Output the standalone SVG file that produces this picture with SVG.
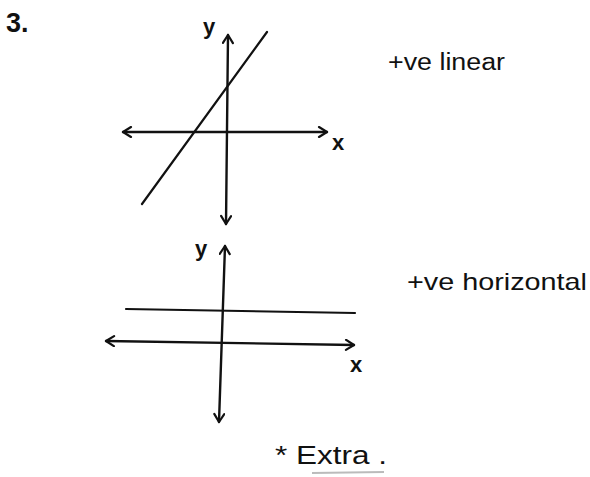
<svg xmlns="http://www.w3.org/2000/svg" width="590" height="477" viewBox="0 0 590 477">
<style>
.ax{stroke:#111;stroke-width:2.4;fill:none;stroke-linecap:round}
.ln{stroke:#111;stroke-width:2.2;fill:none;stroke-linecap:round}
.hw{font-family:"Liberation Sans",Arial,sans-serif;fill:#111}
</style>
<defs>
<marker id="ah" viewBox="0 0 12 12" refX="10" refY="6" markerWidth="12" markerHeight="12" markerUnits="userSpaceOnUse" orient="auto-start-reverse">
<path d="M2,1 L10,6 L2,11" fill="none" stroke="#111" stroke-width="2.2" stroke-linecap="round" stroke-linejoin="round"/>
</marker>
</defs>
<rect width="590" height="477" fill="#fff"/>
<text class="hw" x="6" y="32" font-size="27" font-weight="bold">3.</text>
<g id="graph1">
<line class="ax" x1="123" y1="132" x2="327" y2="132" marker-start="url(#ah)" marker-end="url(#ah)"/>
<line class="ax" x1="228" y1="35" x2="226" y2="224" marker-start="url(#ah)" marker-end="url(#ah)"/>
<line class="ln" x1="142" y1="204" x2="267" y2="32"/>
<text class="hw" x="203" y="34" font-size="22" font-weight="bold">y</text>
<text class="hw" x="332" y="150" font-size="22" font-weight="bold">x</text>
</g>
<text class="hw" x="388" y="70" font-size="23" textLength="117" lengthAdjust="spacingAndGlyphs">+ve linear</text>
<g id="graph2">
<line class="ax" x1="106" y1="341" x2="354" y2="345" marker-start="url(#ah)" marker-end="url(#ah)"/>
<line class="ax" x1="225" y1="246" x2="219" y2="422" marker-start="url(#ah)" marker-end="url(#ah)"/>
<line class="ln" x1="126" y1="309" x2="355" y2="313"/>
<text class="hw" x="195" y="256" font-size="22" font-weight="bold">y</text>
<text class="hw" x="350" y="372" font-size="22" font-weight="bold">x</text>
</g>
<text class="hw" x="407" y="290" font-size="24" textLength="180" lengthAdjust="spacingAndGlyphs">+ve horizontal</text>
<g id="note">
<text class="hw" x="275" y="464" font-size="26" textLength="112" lengthAdjust="spacingAndGlyphs">* Extra .</text>
<line x1="312" y1="473" x2="384" y2="472" stroke="#bbb" stroke-width="2"/>
</g>
</svg>
